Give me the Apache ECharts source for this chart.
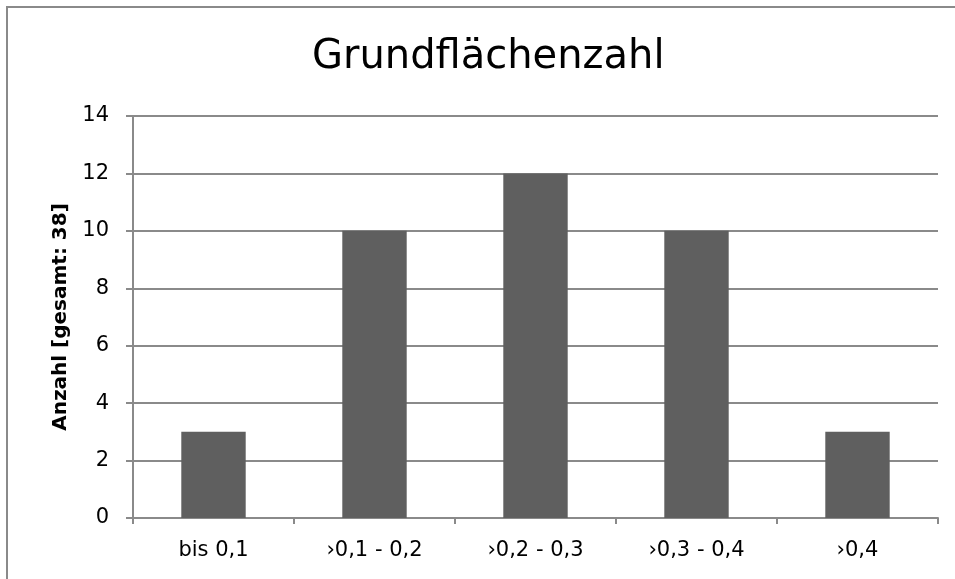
<!DOCTYPE html>
<html>
<head>
<meta charset="utf-8">
<script src="https://cdn.jsdelivr.net/npm/echarts@6/dist/echarts.min.js"></script>
<style>
html, body { margin: 0; padding: 0; background: #fff; }
#main { width: 955px; height: 579px; }
</style>
</head>
<body>
<div id="main"></div>
<script>
var categories = ['bis 0,1', '\u203A0,1 - 0,2', '\u203A0,2 - 0,3', '\u203A0,3 - 0,4', '\u203A0,4']
var counts = [3, 10, 12, 10, 3]
var yTicks = [0, 2, 4, 6, 8, 10, 12, 14]

var chart = echarts.init(document.getElementById('main'))
var font = 'DejaVu Sans, sans-serif'
var lineColor = '#8a8a8a'

var option = {
  animation: false,
  title: {
    text: 'Grundflächenzahl',
    left: 307,
    top: 33,
    padding: 5,
    textStyle: { fontFamily: font, fontSize: 40, fontWeight: 'normal', color: '#000' }
  },
  graphic: [{
    type: 'rect',
    shape: { x: 7, y: 7, width: 1000, height: 620 },
    style: { fill: 'none', stroke: '#8a8a8a', lineWidth: 2 }
  }],
  grid: { left: 133, right: 17, top: 116, bottom: 61 },
  xAxis: {
    type: 'category',
    data: categories,
    axisLine: { lineStyle: { color: lineColor, width: 2 } },
    axisTick: { show: true, length: 6, lineStyle: { color: lineColor, width: 2 } },
    axisLabel: { fontFamily: font, fontSize: 21, color: '#000', margin: 22 }
  },
  yAxis: {
    type: 'value',
    min: yTicks[0],
    max: yTicks[yTicks.length - 1],
    interval: 2,
    name: 'Anzahl [gesamt: 38]',
    nameLocation: 'middle',
    nameGap: 62,
    nameTextStyle: { fontFamily: font, fontSize: 20, fontWeight: 'bold', color: '#000' },
    axisLine: { show: true, lineStyle: { color: lineColor, width: 2 } },
    axisTick: { show: true, length: 7, lineStyle: { color: lineColor, width: 2 } },
    axisLabel: { fontFamily: font, fontSize: 21, color: '#000', margin: 24 },
    splitLine: { lineStyle: { color: lineColor, width: 2 } }
  },
  series: [{
    type: 'bar',
    data: counts,
    barWidth: '40%',
    itemStyle: { color: '#5f5f5f' }
  }]
}

chart.setOption(option)
</script>
</body>
</html>
